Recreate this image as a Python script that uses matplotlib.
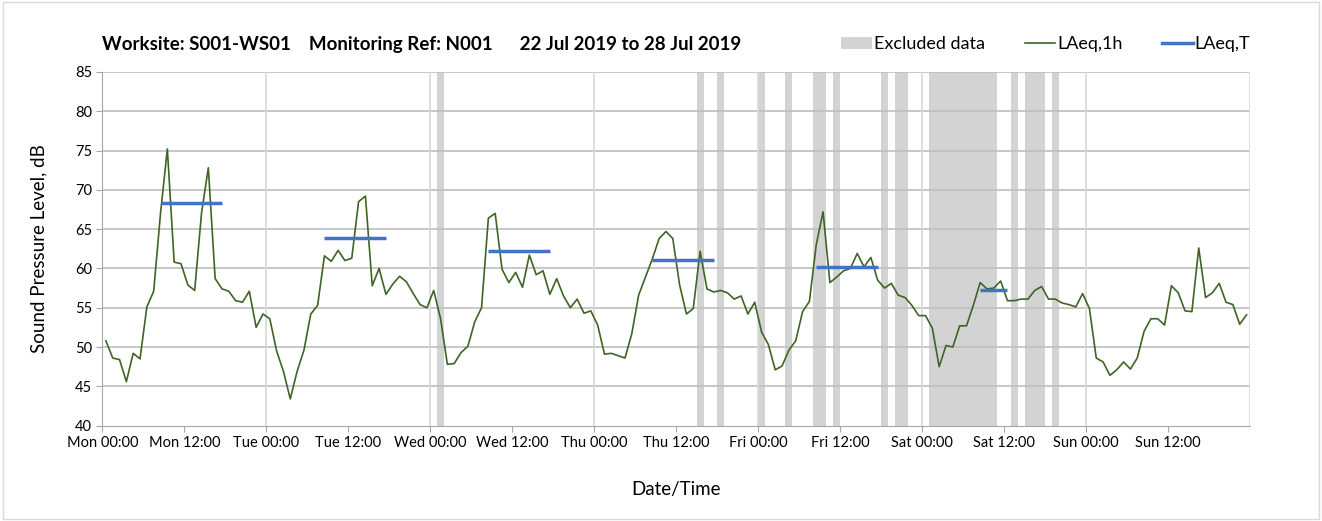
import numpy as np
import matplotlib.pyplot as plt
from matplotlib.patches import Patch
from matplotlib.lines import Line2D

plt.rcParams['font.family'] = ['Lato', 'DejaVu Sans']

# Hourly LAeq,1h values (Mon 00:00 -> Sun 23:00)
laeq_1h = [
    50.8, 48.6, 48.4, 45.6, 49.2, 48.5, 55.1, 57.1, 67.0, 75.2, 60.8, 60.6,
    57.9, 57.2, 67.0, 72.8, 58.7, 57.4, 57.1, 55.9, 55.7, 57.1, 52.5, 54.2,
    53.6, 49.5, 46.9, 43.4, 46.9, 49.6, 54.2, 55.3, 61.6, 60.9, 62.3, 61.0,
    61.3, 68.5, 69.2, 57.8, 60.0, 56.7, 58.0, 59.0, 58.3, 56.8, 55.4, 55.0,
    57.2, 53.6, 47.8, 47.9, 49.3, 50.1, 53.2, 55.0, 66.4, 67.0, 59.9, 58.2,
    59.5, 57.6, 61.7, 59.2, 59.7, 56.7, 58.7, 56.5, 55.0, 56.1, 54.3, 54.6,
    52.8, 49.1, 49.2, 48.9, 48.6, 51.7, 56.6, 58.9, 61.2, 63.8, 64.7, 63.8,
    57.9, 54.2, 54.9, 62.2, 57.4, 57.0, 57.2, 56.9, 56.1, 56.5, 54.2, 55.7,
    51.9, 50.3, 47.1, 47.6, 49.6, 50.8, 54.5, 55.8, 63.0, 67.2, 58.2, 58.9,
    59.7, 60.0, 61.9, 60.2, 61.4, 58.5, 57.5, 58.1, 56.6, 56.3, 55.3, 54.0,
    54.0, 52.4, 47.5, 50.2, 50.0, 52.7, 52.7, 55.3, 58.2, 57.4, 57.5, 58.4,
    55.9, 55.9, 56.1, 56.1, 57.2, 57.7, 56.1, 56.1, 55.6, 55.4, 55.1, 56.8,
    54.9, 48.6, 48.1, 46.4, 47.1, 48.1, 47.2, 48.6, 52.0, 53.6, 53.6, 52.8,
    57.8, 56.9, 54.6, 54.5, 62.6, 56.3, 56.9, 58.1, 55.7, 55.4, 52.9, 54.1,
]

# LAeq,T periods (hour start, hour end, level)
period_start = [8, 32, 56, 80, 104, 128]
period_end = [18, 42, 66, 90, 114, 133]
period_level = [68.3, 63.9, 62.2, 61.1, 60.2, 57.3]

# Excluded data windows (hours from Mon 00:00)
excl_start = [49, 87, 90, 96, 100, 104, 107, 114, 116, 121, 133, 135, 139]
excl_end = [50, 88, 91, 97, 101, 106, 108, 115, 118, 131, 134, 138, 140]

tick_labels = ['Mon 00:00', 'Mon 12:00', 'Tue 00:00', 'Tue 12:00', 'Wed 00:00',
               'Wed 12:00', 'Thu 00:00', 'Thu 12:00', 'Fri 00:00', 'Fri 12:00',
               'Sat 00:00', 'Sat 12:00', 'Sun 00:00', 'Sun 12:00']

hours = np.arange(len(laeq_1h)) + 0.5

fig = plt.figure(figsize=(13.22, 5.21), dpi=100)
ax = fig.add_axes([0.0775, 0.183, 0.868, 0.679])

for s, e in zip(excl_start, excl_end):
    ax.axvspan(s, e, color='#d3d3d3', lw=0, zorder=0)

ax.plot(hours, laeq_1h, color='#3f6426', lw=1.2, zorder=3)
for s, e, v in zip(period_start, period_end, period_level):
    ax.plot([s + 0.5, e - 0.5], [v, v], color='#4472c4', lw=2.5,
            solid_capstyle='butt', zorder=4)

ax.set_xlim(0, 168)
ax.set_ylim(40, 85)
ax.set_xticks(np.arange(0, 168, 12))
ax.set_xticklabels(tick_labels, fontsize=10.5)
ax.set_yticks(np.arange(40, 86, 5))
ax.tick_params(axis='y', labelsize=10.5, length=4, color='#a6a6a6')
ax.tick_params(axis='x', length=4, color='#a6a6a6')

for y in range(45, 86, 5):
    ax.axhline(y, color='#bfbfbf', lw=1.2, zorder=1)
for d in range(24, 169, 24):
    ax.axvline(d, color='#d9d9d9', lw=1.2, zorder=1)

for side in ['top', 'right']:
    ax.spines[side].set_visible(False)
for side in ['left', 'bottom']:
    ax.spines[side].set_color('#a6a6a6')

ax.set_ylabel('Sound Pressure Level, dB', fontsize=13.5, labelpad=20)
ax.set_xlabel('Date/Time', fontsize=13.5, labelpad=22)

fig.text(0.077, 0.915, 'Worksite: S001-WS01    Monitoring Ref: N001      22 Jul 2019 to 28 Jul 2019',
         fontsize=13.5, fontweight='bold', va='center')

handles = [Patch(facecolor='#d3d3d3', edgecolor='none'),
           Line2D([0], [0], color='#3f6426', lw=1.2),
           Line2D([0], [0], color='#4472c4', lw=2.5)]
fig.legend(handles, ['Excluded data', 'LAeq,1h', 'LAeq,T'], loc='center right',
           bbox_to_anchor=(0.958, 0.915), ncol=3, frameon=False, fontsize=13,
           handlelength=1.7, handletextpad=0.1, columnspacing=2.2)

# light outer border
fig.patches.append(plt.Rectangle((0.002, 0.003), 0.996, 0.994, transform=fig.transFigure,
                                 fill=False, edgecolor='#d9d9d9', lw=1))

fig.savefig('out.png', dpi=100)
